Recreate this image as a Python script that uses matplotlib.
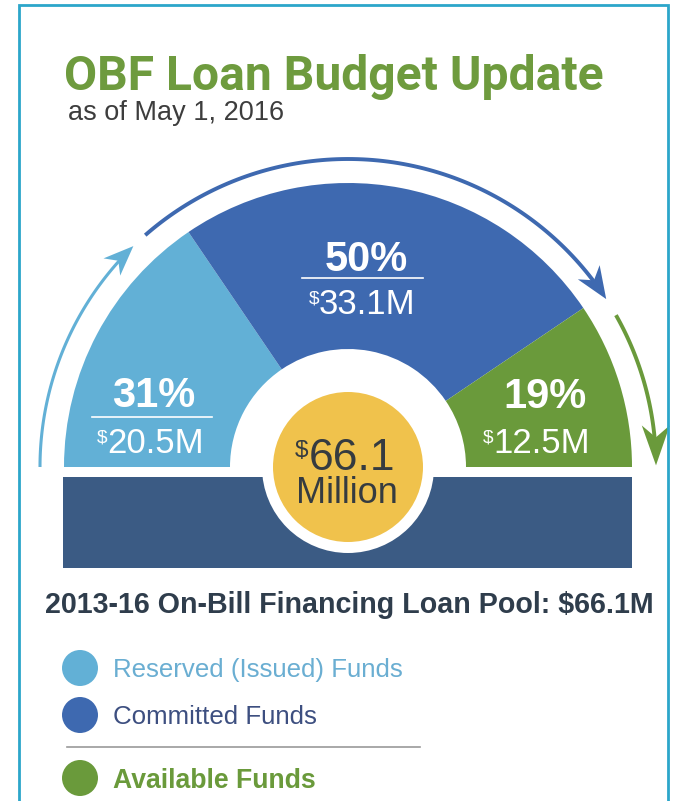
import numpy as np
import matplotlib
matplotlib.use('Agg')
import matplotlib.pyplot as plt
from matplotlib.patches import Wedge, Circle, Rectangle, Polygon

# data
categories = ['Reserved (Issued) Funds', 'Committed Funds', 'Available Funds']
amounts = [20.5, 33.1, 12.5]          # $M
percents = ['31%', '50%', '19%']
amount_labels = ['20.5M', '33.1M', '12.5M']
total_label = '66.1'
title = 'OBF Loan Budget Update'
subtitle = 'as of May 1, 2016'
footer = '2013-16 On-Bill Financing Loan Pool: $66.1M'

colors = ['#62b0d6', '#3e69b0', '#6a9a3b']
legend_text_colors = ['#6aaed2', '#3d4f80', '#6a9a3b']
bar_color = '#3b5b84'
yellow = '#f0c24c'
border = '#2ca6ca'
W, H = 674, 801

fig = plt.figure(figsize=(W / 100, H / 100), dpi=100)
ax = fig.add_axes([0, 0, 1, 1])
ax.set_xlim(0, W)
ax.set_ylim(0, H)
ax.axis('off')
rend = fig.canvas.get_renderer()

def Y(y):
    return H - y

body = 'Liberation Sans'

# frame
ax.plot([19, 19, 668, 668], [0, Y(5), Y(5), 0], color=border, lw=2, solid_joinstyle='miter')

# title
ax.text(64, Y(90), title, family='Roboto', weight='bold', fontsize=34.6,
        color='#6e9b3e', va='baseline', ha='left')
ax.text(68, Y(120), subtitle, family=body, fontsize=19.5, color='#3d3d3d',
        va='baseline', ha='left')

# half donut
cx, cy = 348, Y(467)
r_out, r_in = 284, 118
total = sum(amounts)
bounds = [180]
for a in amounts:
    bounds.append(bounds[-1] - 180 * a / total)
for i in range(3):
    ax.add_patch(Wedge((cx, cy), r_out, bounds[i + 1], bounds[i],
                       width=r_out - r_in, fc=colors[i], ec='none'))

# bottom bar + center badge
ax.add_patch(Rectangle((63, Y(568)), 632 - 63, 568 - 477, fc=bar_color, ec='none'))
ax.add_patch(Circle((cx, cy), 86, fc='white', ec='none'))
ax.add_patch(Circle((cx, cy), 75, fc=yellow, ec='none'))

# arrows around the donut
r_arc = 308
arc_spans = [(180, bounds[1] + 10), (bounds[1] + 7, bounds[2] - 1), (bounds[2] - 4.5, 0.3)]
arc_lw = [2.2, 2.8, 2.8]
head = [(30, 24), (32, 26), (40, 28)]
for i, (a0, a1) in enumerate(arc_spans):
    L, Wd = head[i]
    t1 = np.radians(a1)
    tip = np.array([cx + r_arc * np.cos(t1), cy + r_arc * np.sin(t1)])
    d = np.array([np.sin(t1), -np.cos(t1)])
    n = np.array([-d[1], d[0]])
    back = tip - L * d
    notch = tip - 0.7 * L * d
    # arc stops at notch
    stop = a1 + np.degrees(0.6 * L / r_arc)
    th = np.radians(np.linspace(a0, stop, 100))
    ax.plot(cx + r_arc * np.cos(th), cy + r_arc * np.sin(th), color=colors[i],
            lw=arc_lw[i], solid_capstyle='butt')
    ax.add_patch(Polygon([tip, back + n * Wd / 2, notch, back - n * Wd / 2],
                         closed=True, fc=colors[i], ec='none'))


def money(x, yb, num, size, color, weight='normal', dsize=0.55):
    px = size / 0.72
    dt = ax.text(0, 0, '$', family=body, fontsize=size * dsize, color=color)
    wd = dt.get_window_extent(rend).width
    nt = ax.text(0, 0, num, family=body, fontsize=size, color=color, weight=weight)
    wn = nt.get_window_extent(rend).width
    left = x - (wd + wn) / 2
    nt.set_position((left + wd, yb))
    nt.set_va('baseline')
    raise_ = 0.716 * px - 0.75 * px * dsize
    dt.set_position((left, yb + raise_))
    dt.set_va('baseline')


# segment labels
pct_pos = [(154, 407), (366, 271), (545, 408)]
amt_pos = [(150, 453), (362, 314), (536, 453)]
underline = [(92, 212, 417), (302, 423, 278), None]
for i in range(3):
    ax.text(pct_pos[i][0], Y(pct_pos[i][1]), percents[i], family=body, weight='bold',
            fontsize=30, color='white', ha='center', va='baseline')
    if underline[i]:
        x0, x1, yy = underline[i]
        ax.plot([x0, x1], [Y(yy), Y(yy)], color='white', lw=1.2)
    money(amt_pos[i][0], Y(amt_pos[i][1]), amount_labels[i], 25, 'white')

money(345, Y(470), total_label, 32, '#353b40')
ax.text(347, Y(503), 'Million', family=body, fontsize=26, color='#353b40',
        ha='center', va='baseline')

# footer
ax.text(45, Y(613), footer, family=body, weight='bold', fontsize=20.6,
        color='#2f3d4c', ha='left', va='baseline')

# legend
leg_y = [668, 715, 778]
leg_size = [18.6, 18.6, 19.2]
for i in range(3):
    ax.add_patch(Circle((80, Y(leg_y[i])), 18, fc=colors[i], ec='none'))
    ax.text(113, Y(leg_y[i]), categories[i], family=body, fontsize=leg_size[i],
            weight='bold' if i == 2 else 'normal', color=legend_text_colors[i],
            ha='left', va='center_baseline')
ax.plot([67, 420], [Y(747), Y(747)], color='#9a9a9a', lw=1.2)

fig.savefig('out.png', dpi=100, facecolor='white')
